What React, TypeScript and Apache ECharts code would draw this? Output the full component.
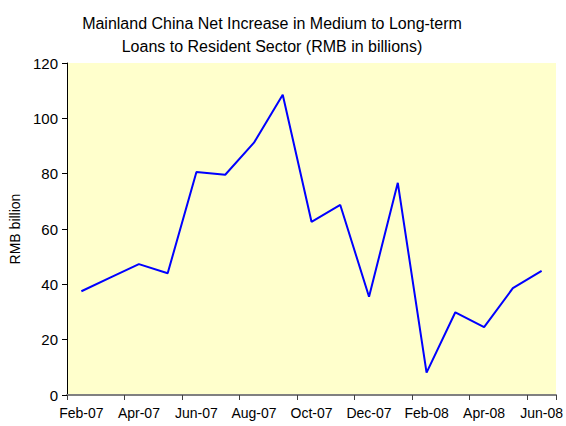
import React, { useEffect, useRef } from "react";
import * as echarts from "echarts";

const categories = [
  "Feb-07", "Mar-07", "Apr-07", "May-07", "Jun-07", "Jul-07", "Aug-07", "Sep-07",
  "Oct-07", "Nov-07", "Dec-07", "Jan-08", "Feb-08", "Mar-08", "Apr-08", "May-08", "Jun-08",
];
const loans = [
  37.5, 42.4, 47.3, 44.0, 80.6, 79.6, 91.2, 108.5,
  62.6, 68.7, 35.5, 76.7, 8.1, 29.9, 24.5, 38.6, 44.9,
];
const titleLines = [
  "Mainland China Net Increase in Medium to Long-term",
  "Loans to Resident Sector (RMB in billions)",
];
const yAxisName = "RMB billion";

const FONT = "'Liberation Sans', Arial, sans-serif";

export default function App() {
  const ref = useRef<HTMLDivElement>(null);
  useEffect(() => {
    if (!ref.current) return;
    const chart = echarts.init(ref.current, undefined, { renderer: "svg" });
    chart.setOption({
      animation: false,
      backgroundColor: "#ffffff",
      title: {
        text: titleLines.join("\n"),
        left: 267,
        top: 7,
        textAlign: "center",
        textStyle: {
          fontFamily: FONT,
          fontSize: 16,
          fontWeight: "normal",
          color: "#000000",
          lineHeight: 23,
        },
      },
      grid: {
        left: 67,
        right: 9,
        top: 63,
        bottom: 31,
        show: true,
        backgroundColor: "#FFFFCC",
        borderWidth: 0,
      },
      xAxis: {
        type: "category",
        data: categories,
        boundaryGap: true,
        axisLine: { lineStyle: { color: "#808080", width: 2 } },
        axisTick: { show: true, interval: 1, length: 5, lineStyle: { color: "#404040" } },
        axisLabel: {
          interval: 1,
          margin: 11,
          fontFamily: FONT,
          fontSize: 14,
          color: "#000000",
        },
        splitLine: { show: false },
      },
      yAxis: {
        type: "value",
        min: 0,
        max: 120,
        interval: 20,
        name: yAxisName,
        nameLocation: "middle",
        nameGap: 39,
        nameTextStyle: { fontFamily: FONT, fontSize: 14, color: "#000000" },
        axisLine: { show: true, lineStyle: { color: "#000000", width: 1 } },
        axisTick: { show: true, length: 5, lineStyle: { color: "#000000" } },
        axisLabel: { margin: 9, fontFamily: FONT, fontSize: 15, color: "#000000" },
        splitLine: { show: false },
      },
      series: [
        {
          type: "line",
          data: loans,
          symbol: "none",
          lineStyle: { color: "#0000FF", width: 2 },
        },
      ],
    });
    return () => chart.dispose();
  }, []);
  return <div ref={ref} style={{ width: 566, height: 426, position: "absolute", left: 0, top: 0 }} />;
}
